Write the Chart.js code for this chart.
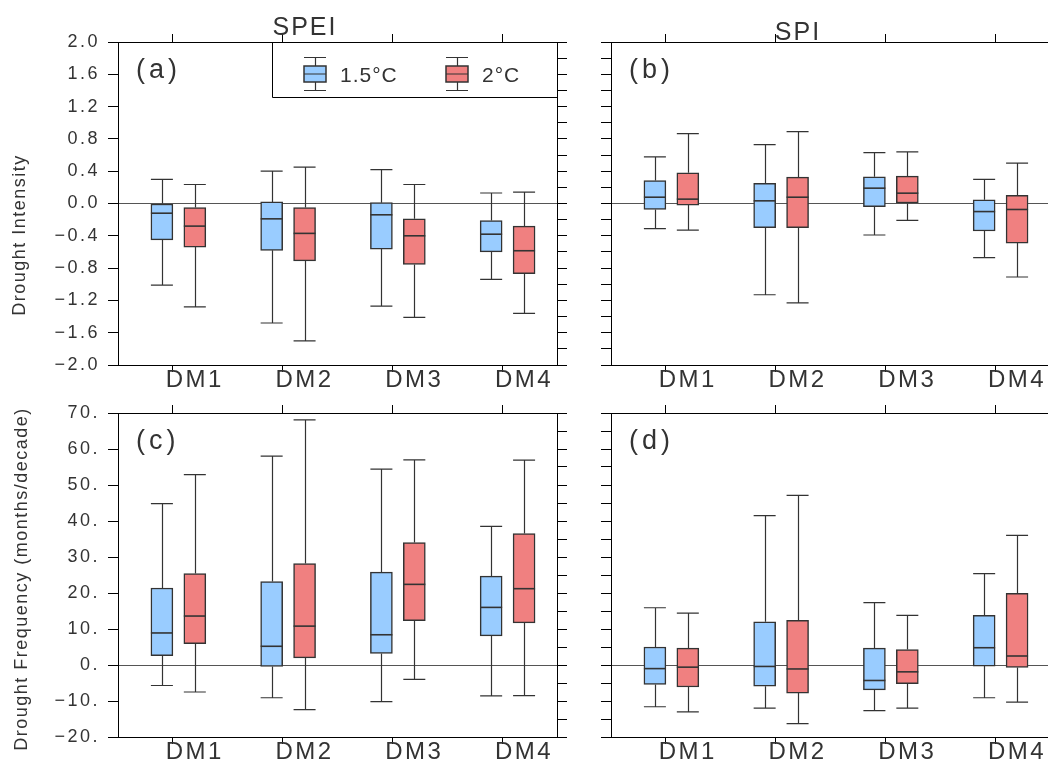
<!DOCTYPE html>
<html>
<head>
<meta charset="utf-8">
<title>Drought intensity and frequency, SPEI / SPI</title>
<script src="https://cdn.jsdelivr.net/npm/chart.js@4.4.1/dist/chart.umd.min.js"></script>
<style>
  html, body { margin: 0; padding: 0; background: #fff; width: 1048px; height: 762px; overflow: hidden; }
  canvas { position: absolute; }
</style>
</head>
<body>
<canvas id="chart-a" width="600" height="400" style="left:0;top:0"></canvas>
<canvas id="chart-b" width="600" height="400" style="left:493px;top:0"></canvas>
<canvas id="chart-c" width="600" height="372" style="left:0;top:390px"></canvas>
<canvas id="chart-d" width="600" height="372" style="left:493px;top:390px"></canvas>
<script>
/* ── Data: each row is [min, q1, median, q3, max] ── */
const categories = ['DM1', 'DM2', 'DM3', 'DM4'];
const seriesNames = ['1.5°C', '2°C'];

const speiIntensity15 = [
  [-1.01, -0.45, -0.12, 0.00, 0.30],
  [-1.48, -0.58, -0.19, 0.02, 0.40],
  [-1.27, -0.565, -0.14, 0.01, 0.42],
  [-0.94, -0.60, -0.38, -0.21, 0.13]
];
const speiIntensity20 = [
  [-1.28, -0.54, -0.28, -0.05, 0.235],
  [-1.70, -0.71, -0.37, -0.05, 0.45],
  [-1.41, -0.755, -0.40, -0.19, 0.235],
  [-1.36, -0.87, -0.585, -0.28, 0.14]
];
const spiIntensity15 = [
  [-0.31, -0.074, 0.078, 0.285, 0.577],
  [-1.13, -0.30, 0.033, 0.25, 0.73],
  [-0.39, -0.04, 0.19, 0.33, 0.63],
  [-0.67, -0.34, -0.10, 0.045, 0.30]
];
const spiIntensity20 = [
  [-0.33, -0.02, 0.054, 0.38, 0.866],
  [-1.23, -0.30, 0.078, 0.326, 0.89],
  [-0.21, 0.0, 0.128, 0.34, 0.64],
  [-0.91, -0.49, -0.074, 0.10, 0.50]
];
const speiFrequency15 = [
  [-5.7, 2.6, 8.9, 21.4, 44.8],
  [-9.1, -0.4, 5.2, 23.2, 58.0],
  [-10.2, 3.2, 8.4, 25.8, 54.4],
  [-8.6, 8.1, 16.0, 24.7, 38.5]
];
const speiFrequency20 = [
  [-7.5, 5.9, 13.6, 25.4, 52.9],
  [-12.4, 2.0, 10.8, 28.2, 68.1],
  [-4.0, 12.3, 22.4, 34.0, 57.0],
  [-8.5, 11.7, 21.2, 36.5, 56.9]
];
const spiFrequency15 = [
  [-11.6, -5.4, -1.0, 5.0, 15.9],
  [-12.0, -5.9, -0.4, 12.0, 41.5],
  [-12.7, -6.9, -4.3, 4.7, 17.3],
  [-9.1, -0.3, 4.8, 13.8, 25.4]
];
const spiFrequency20 = [
  [-13.0, -6.1, -0.6, 4.7, 14.4],
  [-16.3, -7.8, -1.1, 12.4, 47.1],
  [-12.0, -5.2, -1.9, 4.3, 13.8],
  [-10.3, -0.7, 2.5, 19.9, 36.0]
];

const intensityTicks = [-2.0, -1.6, -1.2, -0.8, -0.4, 0.0, 0.4, 0.8, 1.2, 1.6, 2.0];
const frequencyTicks = [-20, -10, 0, 10, 20, 30, 40, 50, 60, 70];

/* ── Style ── */
const INK = '#333';
const BOX_FILL = ['#99ccff', '#f08080'];
const BOX_OFFSETS = [0.40, 0.70];   // box position inside each category slot
const FONT = '"Liberation Sans", Arial, sans-serif';

Chart.defaults.font.family = FONT;
Chart.defaults.color = INK;

const fmtIntensity = v => (v < 0 ? '\u2212' : '') + Math.abs(v).toFixed(1);
const fmtFrequency = v => (v < 0 ? '\u2212' : '') + Math.abs(v) + '.';

/* ── Plugins ── */
const letterSpacing = {
  id: 'letterSpacing',
  beforeDraw(chart) { chart.ctx.letterSpacing = '2.5px'; }
};

// whiskers, caps and medians on top of the floating bars
const boxWhiskers = {
  id: 'boxWhiskers',
  afterDatasetsDraw(chart) {
    const ctx = chart.ctx;
    const y = chart.scales.y;
    chart.data.datasets.forEach((ds, di) => {
      const meta = chart.getDatasetMeta(di);
      meta.data.forEach((bar, j) => {
        const [lo, q1, med, q3, hi] = ds.stats[j];
        const { x, width } = bar.getProps(['x', 'width'], true);
        const cx = Math.round(x) + 0.5;
        const half = width / 2;
        ctx.save();
        ctx.strokeStyle = INK;
        ctx.lineWidth = 1.2;
        ctx.beginPath();
        ctx.moveTo(cx, y.getPixelForValue(hi));
        ctx.lineTo(cx, y.getPixelForValue(q3));
        ctx.moveTo(cx, y.getPixelForValue(q1));
        ctx.lineTo(cx, y.getPixelForValue(lo));
        ctx.moveTo(x - half, y.getPixelForValue(hi));
        ctx.lineTo(x + half, y.getPixelForValue(hi));
        ctx.moveTo(x - half, y.getPixelForValue(lo));
        ctx.lineTo(x + half, y.getPixelForValue(lo));
        ctx.stroke();
        ctx.lineWidth = 1.6;
        ctx.beginPath();
        ctx.moveTo(x - half, y.getPixelForValue(med));
        ctx.lineTo(x + half, y.getPixelForValue(med));
        ctx.stroke();
        ctx.restore();
      });
    });
  }
};

function drawLegend(ctx, area) {
  const left = area.right - 285;
  const top = area.top;
  const bottom = top + 55;
  ctx.strokeStyle = '#000';
  ctx.lineWidth = 1;
  ctx.beginPath();
  ctx.moveTo(left + 0.5, top);
  ctx.lineTo(left + 0.5, bottom + 0.5);
  ctx.lineTo(area.right, bottom + 0.5);
  ctx.stroke();

  seriesNames.forEach((name, k) => {
    const ix = left + 32 + k * 142;
    const cx = ix + 11.5;
    ctx.fillStyle = BOX_FILL[k];
    ctx.fillRect(ix, top + 24, 22, 16);
    ctx.strokeStyle = INK;
    ctx.lineWidth = 1.5;
    ctx.strokeRect(ix, top + 24, 22, 16);
    ctx.lineWidth = 1.2;
    ctx.beginPath();
    ctx.moveTo(cx, top + 15); ctx.lineTo(cx, top + 24);
    ctx.moveTo(cx, top + 40); ctx.lineTo(cx, top + 48);
    ctx.moveTo(ix, top + 15.5); ctx.lineTo(ix + 22, top + 15.5);
    ctx.moveTo(ix, top + 48.5); ctx.lineTo(ix + 22, top + 48.5);
    ctx.moveTo(ix, top + 32); ctx.lineTo(ix + 22, top + 32);
    ctx.stroke();
    ctx.fillStyle = INK;
    ctx.font = '21px ' + FONT;
    ctx.letterSpacing = '1px';
    ctx.textAlign = 'left';
    ctx.textBaseline = 'alphabetic';
    ctx.fillText(name, ix + 36, top + 40);
  });
}

const panelText = {
  id: 'panelText',
  afterDraw(chart, args, o) {
    const ctx = chart.ctx;
    const a = chart.chartArea;
    ctx.save();
    ctx.fillStyle = INK;
    ctx.textBaseline = 'alphabetic';
    if (o.title) {
      ctx.font = '25px ' + FONT;
      ctx.letterSpacing = '2px';
      ctx.textAlign = 'center';
      ctx.fillText(o.title, a.left + 187, o.titleBaseline);
    }
    ctx.font = '27px ' + FONT;
    ctx.letterSpacing = '4px';
    ctx.textAlign = 'left';
    ctx.fillText(o.letter, a.left + 18, a.top + 36);
    if (o.yTitle) {
      ctx.save();
      ctx.translate(o.yTitleX, o.yTitleY);
      ctx.rotate(-Math.PI / 2);
      ctx.font = '18px ' + FONT;
      ctx.letterSpacing = '1.5px';
      ctx.textAlign = 'center';
      ctx.textBaseline = 'middle';
      ctx.fillText(o.yTitle, 0, 0);
      ctx.restore();
    }
    if (o.legend) drawLegend(ctx, a);
    ctx.restore();
  }
};

/* ── Panel factory ── */
function makePanel(id, cfg) {
  const datasets = cfg.series.map((stats, k) => ({
    label: seriesNames[k],
    data: stats.map((s, i) => ({ x: i + BOX_OFFSETS[k], y: [s[1], s[3]] })),
    stats,
    backgroundColor: BOX_FILL[k],
    borderColor: INK,
    borderWidth: 1.5,
    borderSkipped: false,
    grouped: false,
    maxBarThickness: 22,
    barPercentage: 1,
    categoryPercentage: 1
  }));

  const isMajor = v => cfg.yTicks.some(t => Math.abs(t - v) < 1e-6);

  return new Chart(document.getElementById(id), {
    type: 'bar',
    data: { datasets },
    options: {
      responsive: false,
      animation: false,
      events: [],
      layout: { padding: { top: cfg.padTop, right: 33, bottom: 0, left: 0 } },
      plugins: {
        legend: { display: false },
        tooltip: { enabled: false },
        panelText: cfg.text
      },
      scales: {
        x: {
          type: 'linear', position: 'bottom', min: 0, max: 4, offset: false,
          afterFit: s => { s.height = cfg.xHeight; },
          ticks: {
            stepSize: 1, autoSkip: false, maxRotation: 0, labelOffset: -33, padding: -6,
            color: INK, font: { size: 24 },
            callback: v => (v >= 1 ? categories[v - 1] : '')
          },
          grid: { drawOnChartArea: false, tickLength: 7, tickColor: '#000' },
          border: { color: '#000', width: 1 }
        },
        x2: {
          type: 'linear', position: 'top', min: 0, max: 4, offset: false,
          afterFit: s => { s.height = 10; },
          ticks: { stepSize: 1, display: false },
          grid: { drawOnChartArea: false, tickLength: 8, tickColor: '#000' },
          border: { color: '#000', width: 1 }
        },
        y: {
          type: 'linear', position: 'left', min: cfg.yMin, max: cfg.yMax,
          afterFit: s => { s.width = 118; },
          ticks: {
            stepSize: cfg.yStep, maxTicksLimit: 100, display: cfg.yLabels, padding: 8,
            color: INK, font: { size: 18 },
            callback: v => (isMajor(v) ? cfg.yFormat(v) : '')
          },
          grid: {
            tickLength: 10, tickColor: '#000',
            color: c => (c.tick && Math.abs(c.tick.value) < 1e-9 ? '#555' : 'rgba(0,0,0,0)')
          },
          border: { color: '#000', width: 1 }
        },
        y2: {
          type: 'linear', position: 'right', min: cfg.yMin, max: cfg.yMax,
          afterFit: s => { s.width = 10; },
          ticks: { stepSize: cfg.yStep, maxTicksLimit: 100, display: false },
          grid: { drawOnChartArea: false, tickLength: 10, tickColor: '#000' },
          border: { color: '#000', width: 1 }
        }
      }
    },
    plugins: [letterSpacing, boxWhiskers, panelText]
  });
}

const intensityAxis = { yMin: -2, yMax: 2, yStep: 0.2, yTicks: intensityTicks, yFormat: fmtIntensity };
const frequencyAxis = { yMin: -20, yMax: 70, yStep: 5, yTicks: frequencyTicks, yFormat: fmtFrequency };

makePanel('chart-a', Object.assign({}, intensityAxis, {
  series: [speiIntensity15, speiIntensity20], padTop: 32, xHeight: 35, yLabels: true,
  text: { title: 'SPEI', titleBaseline: 35, letter: '(a)', yTitle: 'Drought Intensity', yTitleX: 20, yTitleY: 235, legend: true }
}));
makePanel('chart-b', Object.assign({}, intensityAxis, {
  series: [spiIntensity15, spiIntensity20], padTop: 32, xHeight: 35, yLabels: false,
  text: { title: 'SPI', titleBaseline: 40, letter: '(b)' }
}));
makePanel('chart-c', Object.assign({}, frequencyAxis, {
  series: [speiFrequency15, speiFrequency20], padTop: 13, xHeight: 25, yLabels: true,
  text: { letter: '(c)', yTitle: 'Drought Frequency (months/decade)', yTitleX: 22, yTitleY: 189 }
}));
makePanel('chart-d', Object.assign({}, frequencyAxis, {
  series: [spiFrequency15, spiFrequency20], padTop: 13, xHeight: 25, yLabels: false,
  text: { letter: '(d)' }
}));
</script>
</body>
</html>
